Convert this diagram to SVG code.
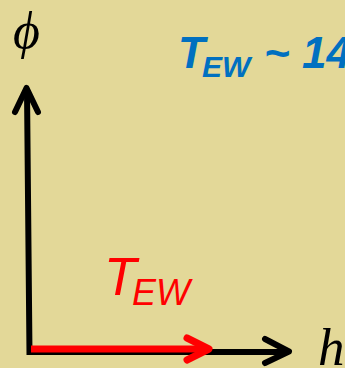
<svg xmlns="http://www.w3.org/2000/svg" width="345" height="368" viewBox="0 0 345 368">
  <style>
    .ax { fill: none; stroke: #000; stroke-width: 6; stroke-linecap: round; stroke-linejoin: round; }
    .ax-flat { fill: none; stroke: #000; stroke-width: 6; }
    .red { fill: none; stroke: #FF0000; stroke-width: 7; stroke-linecap: round; stroke-linejoin: round; }
    .math { font-family: "Liberation Serif", "DejaVu Serif", serif; font-style: italic; fill: #000; }
    .sans { font-family: "Liberation Sans", Arial, sans-serif; font-style: italic; }
  </style>
  <rect width="345" height="368" fill="#E3D898"/>
  <g id="connectors">
    <path class="ax-flat" d="M27,90 L29.5,355 M26.5,352 L288,352"/>
    <polyline class="ax" points="15,112 26.5,88 38,112"/>
    <polyline class="ax" points="265,339 289,351.5 265,363"/>
    <path class="red" d="M31,349 L208,349" style="stroke-linecap:butt"/>
    <polyline class="red" points="187,338 209,349 187,360"/>
  </g>
  <g id="phi-label">
    <text class="math" x="13" y="48" font-size="52">ϕ</text>
  </g>
  <g id="h-label">
    <text class="math" x="318" y="365" font-size="53">h</text>
  </g>
  <g id="tew-label">
    <text class="sans" fill="#FF0000"><tspan x="104" y="295" font-size="53">T</tspan><tspan x="132" y="305" font-size="36">EW</tspan></text>
  </g>
  <g id="tew-value">
    <text class="sans" fill="#0070C0" font-weight="bold"><tspan x="178" y="68" font-size="44">T</tspan><tspan x="202" y="77" font-size="30">EW</tspan><tspan x="264" y="68" font-size="44">~ 14</tspan></text>
  </g>
</svg>
